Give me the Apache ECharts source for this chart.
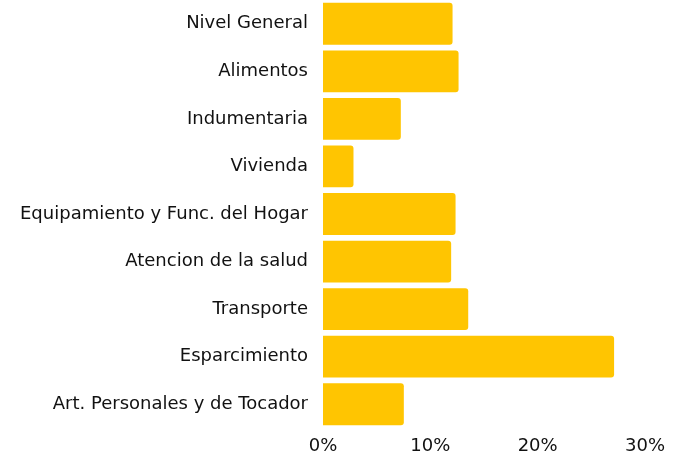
<!DOCTYPE html>
<html><head><meta charset="utf-8">
<script src="https://cdn.jsdelivr.net/npm/echarts@6/dist/echarts.min.js"></script>
<style>html,body{margin:0;padding:0;background:#fff}#c{width:680px;height:457px}</style>
</head><body><div id="c"></div>
<script>
const categories = ["Nivel General","Alimentos","Indumentaria","Vivienda","Equipamiento y Func. del Hogar","Atencion de la salud","Transporte","Esparcimiento","Art. Personales y de Tocador"];
const values = [12.07, 12.63, 7.25, 2.84, 12.35, 11.94, 13.53, 27.12, 7.53];
const xTicks = [0, 10, 20, 30];

const FONT = '"DejaVu Sans", sans-serif';
const chart = echarts.init(document.getElementById('c'), null, {renderer:'canvas'});
chart.setOption({
  animation:false,
  grid:{left:323, right:35, top:0, bottom:29, containLabel:false},
  xAxis:{type:'value', min:xTicks[0], max:xTicks[xTicks.length-1], interval:10,
    axisLine:{show:false}, axisTick:{show:false}, splitLine:{show:false},
    axisLabel:{formatter:v=>v+'%', color:'#111', fontSize:18, fontFamily:FONT, margin:9}},
  yAxis:{type:'category', data:categories, inverse:true,
    axisLine:{show:false}, axisTick:{show:false},
    axisLabel:{color:'#111', fontSize:18, fontFamily:FONT, margin:15, padding:[4,0,0,0]}},
  series:[{type:'bar', data:values, barCategoryGap:'12%',
    itemStyle:{color:'#FFC501', borderRadius:[0,3,3,0]}}]
});
</script></body></html>
